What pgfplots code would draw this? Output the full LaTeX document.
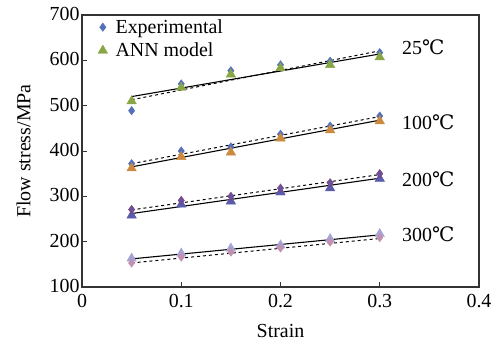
\documentclass[border=0pt]{standalone}
\usepackage{pgfplots}
\pgfplotsset{compat=1.18}
\usepackage{fontspec}
\setmainfont{Liberation Serif}
\newfontfamily\dejavu{DejaVu Serif}
\newcommand{\degC}{{\dejavu ℃}}
\newcommand{\fs}{\fontsize{20}{22}\selectfont}
\definecolor{expblue}{HTML}{5470B8}
\definecolor{anngreen}{HTML}{88A645}
\definecolor{annorange}{HTML}{CC8A3E}
\definecolor{annpurple}{HTML}{5B5BAE}
\definecolor{annlav}{HTML}{A4A4D6}
\definecolor{expred}{HTML}{8E3A6A}
\definecolor{exppink}{HTML}{C490B0}
\begin{document}
\begin{tikzpicture}
\begin{axis}[
  name=ax,
  at={(0,0)}, anchor=south west,
  scale only axis,
  width=397bp, height=272bp,
  xmin=0, xmax=0.4, ymin=100, ymax=700,
  xtick={0,0.1,0.2,0.3,0.4},
  ytick={100,200,300,400,500,600,700},
  tick align=inside,
  xtick pos=bottom, ytick pos=left,
  major tick length=5bp,
  axis line style={line width=1.1pt, black!80},
  tick style={line width=0.9pt, black!80},
  /pgf/number format/assume math mode=true,
  xticklabel style={/pgf/number format/fixed, font=\fs, yshift=-4bp},
  yticklabel style={font=\fs, xshift=1bp, yshift=1bp},
  xlabel={Strain}, ylabel={Flow stress/MPa},
  label style={font=\fs},
  xlabel style={at={(axis description cs:0.5,0)}, anchor=north, yshift=-34bp},
  ylabel style={at={(axis description cs:0,0.5)}, anchor=south, yshift=48bp},
  legend style={draw=none, fill=white, at={(axis cs:0.015,697)}, anchor=north west,
    font=\fs, row sep=4bp, column sep=6bp, inner sep=1bp},
  legend cell align=left,
  clip=false,
]
% fit lines
\addplot[black, line width=1.1pt, forget plot] coordinates {(0.05,520) (0.3,614)};
\addplot[black, dashed, line width=1pt, forget plot] coordinates {(0.05,513) (0.3,621)};
\addplot[black, line width=1.1pt, forget plot] coordinates {(0.05,365) (0.3,468)};
\addplot[black, dashed, line width=1pt, forget plot] coordinates {(0.05,372) (0.3,476)};
\addplot[black, line width=1.1pt, forget plot] coordinates {(0.05,262) (0.3,340)};
\addplot[black, dashed, line width=1pt, forget plot] coordinates {(0.05,270) (0.3,348)};
\addplot[black, line width=1.1pt, forget plot] coordinates {(0.05,162) (0.3,215)};
\addplot[black, dashed, line width=1pt, forget plot] coordinates {(0.05,153) (0.3,207)};
% experimental
\addplot[only marks, mark=diamond*, mark size=4.2bp, color=expblue] coordinates {
 (0.05,489) (0.1,548) (0.15,577) (0.2,590) (0.25,598) (0.3,617)};
\addlegendentry{Experimental}
\addplot[only marks, mark=triangle*, mark size=5.5bp, color=anngreen] coordinates {
 (0.05,510) (0.1,540) (0.15,569) (0.2,583) (0.25,590) (0.3,607)};
\addlegendentry{ANN model}
\addplot[only marks, mark=diamond*, mark size=4.2bp, color=expblue, forget plot] coordinates {
 (0.05,372) (0.1,400) (0.15,409) (0.2,437) (0.25,455) (0.3,477)};
\addplot[only marks, mark=triangle*, mark size=5.5bp, color=annorange, forget plot] coordinates {
 (0.05,362) (0.1,387) (0.15,397) (0.2,428) (0.25,446) (0.3,466)};
\addplot[only marks, mark=triangle*, mark size=5.5bp, color=annpurple, forget plot] coordinates {
 (0.05,258) (0.1,282) (0.15,289) (0.2,309) (0.25,318) (0.3,339)};
\addplot[only marks, mark=diamond*, mark size=4.2bp, color=expred, fill=annpurple!80!expred, forget plot] coordinates {
 (0.05,271) (0.1,291) (0.15,300) (0.2,318) (0.25,330) (0.3,350)};
\addplot[only marks, mark=triangle*, mark size=5.5bp, color=annlav, forget plot] coordinates {
 (0.05,163) (0.1,174) (0.15,185) (0.2,192) (0.25,206) (0.3,217)};
\addplot[only marks, mark=diamond*, mark size=4.2bp, color=exppink, forget plot] coordinates {
 (0.05,153) (0.1,166) (0.15,177) (0.2,186) (0.25,199) (0.3,209)};
% temperature labels
\node[anchor=west, font=\fs] at (axis cs:0.319,628) {25\degC};
\node[anchor=west, font=\fs] at (axis cs:0.319,463) {100\degC};
\node[anchor=west, font=\fs] at (axis cs:0.319,338) {200\degC};
\node[anchor=west, font=\fs] at (axis cs:0.319,216) {300\degC};
\end{axis}
\path ([shift={(-82bp,-59bp)}]ax.south west) rectangle ([shift={(23bp,15bp)}]ax.north east);
\end{tikzpicture}
\end{document}
